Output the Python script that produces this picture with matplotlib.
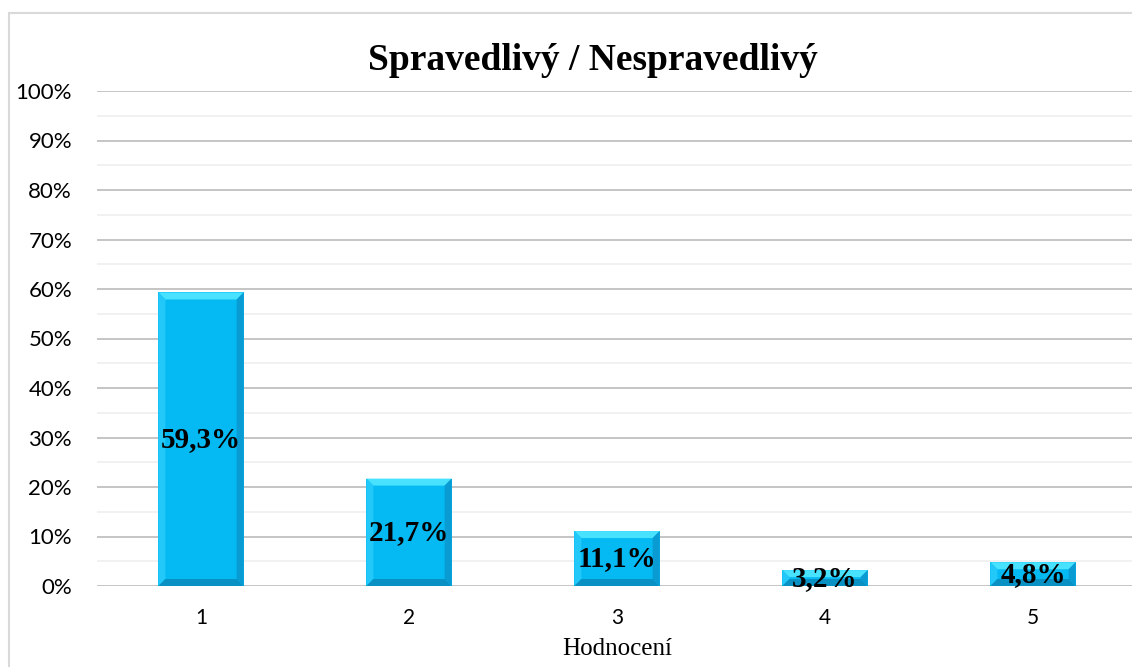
import matplotlib
matplotlib.use('AGG')

import matplotlib.pyplot as plt
from matplotlib.patches import Polygon, Rectangle
from matplotlib.transforms import IdentityTransform
from matplotlib.ticker import MultipleLocator, PercentFormatter

categories = ['1', '2', '3', '4', '5']
values = [59.3, 21.7, 11.1, 3.2, 4.8]
labels = ['59,3%', '21,7%', '11,1%', '3,2%', '4,8%']

face = '#05b9f3'
bevel_top = '#48e2ff'
bevel_left = '#22c9f8'
bevel_right = '#0a9bd2'
bevel_bottom = '#0a91c4'

W, H = 1132, 667
fig = plt.figure(figsize=(W / 100, H / 100), dpi=100)

# chart border (cropped on right / bottom like the source)
fig.patches.append(Rectangle((9 / W, -0.1), 1.2, 1 - 13 / H + 0.1,
                             transform=fig.transFigure, fill=False,
                             edgecolor='#d9d9d9', linewidth=1.5))

ax = fig.add_axes([97 / W, 81 / H, 1040 / W, 495 / H])
x = range(len(categories))
bars = ax.bar(x, values, width=0.41, color=face, zorder=3)
ax.set_xlim(-0.5, 4.5)
ax.set_ylim(0, 100)

ax.yaxis.set_major_locator(MultipleLocator(10))
ax.yaxis.set_minor_locator(MultipleLocator(5))
ax.yaxis.set_major_formatter(PercentFormatter(decimals=0))
ax.grid(axis='y', which='major', color='#c0c0c0', linewidth=1.3, zorder=0)
ax.grid(axis='y', which='minor', color='#f0f0f0', linewidth=1.3, zorder=0)
for s in ax.spines.values():
    s.set_visible(False)
ax.tick_params(axis='both', which='both', length=0)
ax.tick_params(axis='y', pad=18, labelsize=16)
ax.tick_params(axis='x', pad=16, labelsize=15)
ax.set_xticks(list(x))
ax.set_xticklabels(categories)
for t in ax.get_xticklabels() + ax.get_yticklabels():
    t.set_fontfamily('Lato')

ax.set_xlabel('Hodnocení', fontfamily='Liberation Serif', fontsize=18, labelpad=7)

fig.text(593 / W, 1 - 60 / H, 'Spravedlivý / Nespravedlivý', ha='center', va='center',
         fontfamily='Liberation Serif', fontweight='bold', fontsize=27)

# bevel effect on each bar, built in pixel space from the bar geometry
b = 7
for bar in bars:
    x0, y0 = ax.transData.transform((bar.get_x(), 0))
    x1, y1 = ax.transData.transform((bar.get_x() + bar.get_width(), bar.get_height()))
    bb = min(b, (y1 - y0) / 2)
    pieces = [
        ([(x0, y1), (x1, y1), (x1 - bb, y1 - bb), (x0 + bb, y1 - bb)], bevel_top),
        ([(x0, y0), (x0, y1), (x0 + bb, y1 - bb), (x0 + bb, y0 + bb)], bevel_left),
        ([(x1, y0), (x1, y1), (x1 - bb, y1 - bb), (x1 - bb, y0 + bb)], bevel_right),
        ([(x0, y0), (x1, y0), (x1 - bb, y0 + bb), (x0 + bb, y0 + bb)], bevel_bottom),
    ]
    for pts, c in pieces:
        ax.add_patch(Polygon(pts, closed=True, facecolor=c, edgecolor='none',
                             transform=IdentityTransform(), zorder=4))

for xi, v, lab in zip(x, values, labels):
    ax.text(xi, v / 2, lab, ha='center', va='center', fontfamily='Liberation Serif',
            fontweight='bold', fontsize=21, zorder=6)

fig.savefig('out.png', dpi=100)
